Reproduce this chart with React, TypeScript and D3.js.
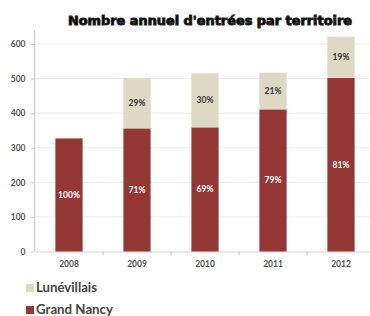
import React, { useEffect, useRef } from "react";
import * as d3 from "d3";

const years = ["2008", "2009", "2010", "2011", "2012"];
const grandNancy = [327, 356, 359, 411, 502];
const lunevillais = [0, 146, 156, 106, 119];
const pctGrandNancy = ["100%", "71%", "69%", "79%", "81%"];
const pctLunevillais = ["", "29%", "30%", "21%", "19%"];
const yTicks = [0, 100, 200, 300, 400, 500, 600];

const RED = "#943634";
const BEIGE = "#ddd9c3";

export default function App() {
  const ref = useRef<SVGSVGElement>(null);

  useEffect(() => {
    const svg = d3.select(ref.current);
    svg.selectAll("*").remove();

    const x = d3.scaleBand().domain(years).range([35, 375]).paddingInner(0.6).paddingOuter(0.3);
    const y = d3.scaleLinear().domain([0, 600]).range([251.5, 44]);

    // gridlines
    svg.append("g")
      .selectAll("line")
      .data(yTicks.slice(1))
      .enter()
      .append("line")
      .attr("x1", 35)
      .attr("x2", 370)
      .attr("y1", d => y(d))
      .attr("y2", d => y(d))
      .attr("stroke", "#ececec")
      .attr("stroke-width", 1);

    const yAxis = svg.append("g")
      .attr("transform", "translate(34.5,0)")
      .call(d3.axisLeft(y).tickValues(yTicks).tickSize(4).tickPadding(5));
    yAxis.select(".domain").attr("stroke", "#d0d0d0").attr("stroke-width", 1.5).attr("d", `M0,30V${y(0)}`);
    yAxis.selectAll(".tick line").attr("stroke", "#c8c8c8");
    yAxis.selectAll("text")
      .attr("font-family", "Lato, sans-serif")
      .attr("font-size", 8.5)
      .attr("font-weight", "bold")
      .attr("fill", "#555");

    // x axis line and boundary ticks
    svg.append("line")
      .attr("x1", 35).attr("x2", 370)
      .attr("y1", y(0) + 0.5).attr("y2", y(0) + 0.5)
      .attr("stroke", "#d0d0d0");
    const step = x.step();
    svg.append("g")
      .selectAll("line")
      .data(years.slice(1))
      .enter()
      .append("line")
      .attr("x1", d => (x(d) as number) - (step - x.bandwidth()) / 2)
      .attr("x2", d => (x(d) as number) - (step - x.bandwidth()) / 2)
      .attr("y1", y(0))
      .attr("y2", y(0) + 4)
      .attr("stroke", "#c8c8c8");

    svg.append("g")
      .selectAll("text")
      .data(years)
      .enter()
      .append("text")
      .attr("x", d => (x(d) as number) + x.bandwidth() / 2)
      .attr("y", 267)
      .attr("text-anchor", "middle")
      .attr("font-family", "Lato, sans-serif")
      .attr("font-size", 8.5)
      .attr("font-weight", "bold")
      .attr("fill", "#555")
      .text(d => d);

    const rows = years.map((yr, i) => ({ yr, gn: grandNancy[i], lu: lunevillais[i], pg: pctGrandNancy[i], pl: pctLunevillais[i] }));

    svg.append("g")
      .selectAll("rect")
      .data(rows)
      .enter()
      .append("rect")
      .attr("x", d => x(d.yr) as number)
      .attr("width", x.bandwidth())
      .attr("y", d => y(d.gn))
      .attr("height", d => y(0) - y(d.gn))
      .attr("fill", RED);

    svg.append("g")
      .selectAll("rect")
      .data(rows.filter(d => d.lu > 0))
      .enter()
      .append("rect")
      .attr("x", d => x(d.yr) as number)
      .attr("width", x.bandwidth())
      .attr("y", d => y(d.gn + d.lu))
      .attr("height", d => y(d.gn) - y(d.gn + d.lu))
      .attr("fill", BEIGE);

    svg.append("g")
      .selectAll("text")
      .data(rows)
      .enter()
      .append("text")
      .attr("x", d => (x(d.yr) as number) + x.bandwidth() / 2)
      .attr("y", d => (y(0) + y(d.gn)) / 2 + 3)
      .attr("text-anchor", "middle")
      .attr("font-family", "Lato, sans-serif")
      .attr("font-size", 8.5)
      .attr("font-weight", "bold")
      .attr("fill", "#fff")
      .text(d => d.pg);

    svg.append("g")
      .selectAll("text")
      .data(rows.filter(d => d.lu > 0))
      .enter()
      .append("text")
      .attr("x", d => (x(d.yr) as number) + x.bandwidth() / 2)
      .attr("y", d => (y(d.gn) + y(d.gn + d.lu)) / 2 + 3)
      .attr("text-anchor", "middle")
      .attr("font-family", "Lato, sans-serif")
      .attr("font-size", 8.5)
      .attr("font-weight", "bold")
      .attr("fill", "#333")
      .text(d => d.pl);

    // title
    svg.append("text")
      .attr("x", 210)
      .attr("y", 25)
      .attr("text-anchor", "middle")
      .attr("font-family", "'DejaVu Sans', sans-serif")
      .attr("font-size", 12)
      .attr("font-weight", "bold")
      .attr("fill", "#000")
      .attr("stroke", "#222")
      .attr("stroke-width", 0.9)
      .attr("textLength", 284)
      .attr("lengthAdjust", "spacingAndGlyphs")
      .text("Nombre annuel d'entrées par territoire");

    // legend
    const legend = [
      { name: "Lunévillais", color: BEIGE, y: 292, size: 12.5, len: 61 },
      { name: "Grand Nancy", color: RED, y: 314, size: 13, len: 77 },
    ];
    const lg = svg.append("g").selectAll("g").data(legend).enter().append("g");
    lg.append("rect")
      .attr("x", 26)
      .attr("y", d => d.y - 8)
      .attr("width", 8)
      .attr("height", 8)
      .attr("fill", d => d.color);
    lg.append("text")
      .attr("x", 36)
      .attr("y", d => d.y)
      .attr("font-family", "Lato, sans-serif")
      .attr("font-size", d => d.size)
      .attr("font-weight", "bold")
      .attr("fill", "#444")
      .attr("textLength", d => d.len)
      .attr("lengthAdjust", "spacingAndGlyphs")
      .text(d => d.name);
  }, []);

  return (
    <svg
      ref={ref}
      width={370}
      height={316}
      style={{ position: "absolute", left: 0, top: 0, background: "#fff" }}
    />
  );
}
